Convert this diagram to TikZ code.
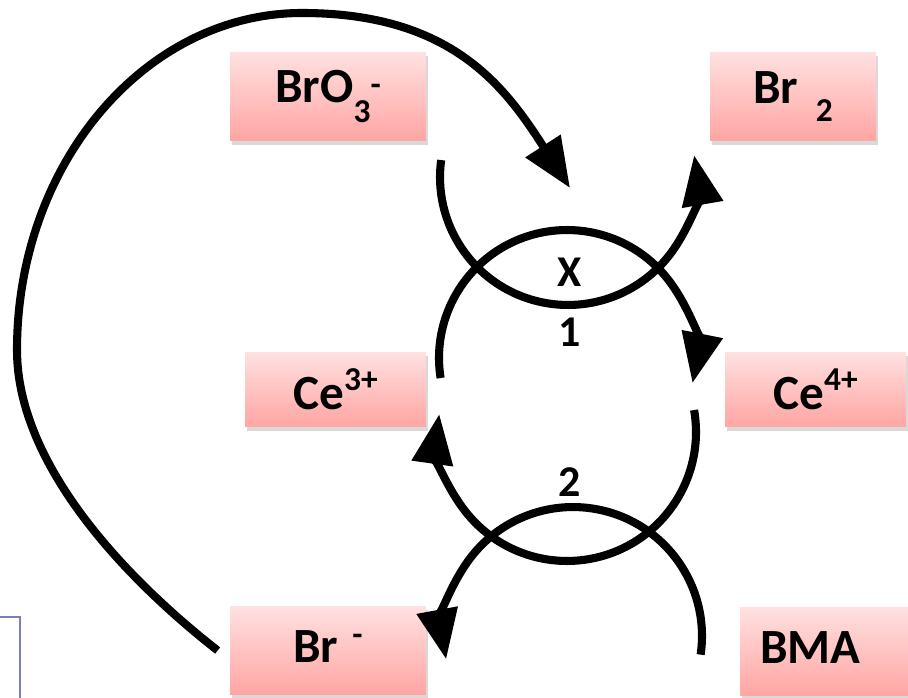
\documentclass[tikz,border=0pt]{standalone}
\usepackage{fontspec}
\setmainfont{Carlito}
\usetikzlibrary{arrows.meta,shadows,calc}
\definecolor{boxtop}{RGB}{255,225,225}
\definecolor{boxbot}{RGB}{255,165,162}
\definecolor{frameblue}{RGB}{125,125,185}
\newcommand{\shiftsc}[2]{\raisebox{#1}{\fontsize{19pt}{19pt}\selectfont #2}}
\begin{document}
\begin{tikzpicture}[x=0.02cm,y=0.02cm,
  chem/.style={rectangle, top color=boxtop, bottom color=boxbot, draw=none, inner sep=0pt,
    font=\fontsize{28pt}{30pt}\selectfont\bfseries,
    drop shadow={shadow xshift=1pt,shadow yshift=-2pt,opacity=0.3}},
  react/.style={line width=4.6pt, black},
  tipend/.style={-{Triangle[length=1cm,width=0.8cm]}},
  lbl/.style={font=\fontsize{25pt}{27pt}\selectfont\bfseries, inner sep=0pt}
]
\useasboundingbox (0,0) rectangle (908,697);
\clip (0,0) rectangle (908,697);

% partial frame at left edge
\draw[frameblue, line width=1.1pt, fill=white] (-20,80) rectangle (20,-20);

% species boxes
\node[chem, minimum width=3.92cm, minimum height=1.78cm] (bro3) at (328,600.5) {BrO\shiftsc{-11pt}{3}\shiftsc{4pt}{-}};
\node[chem, minimum width=3.32cm, minimum height=1.78cm] (br2) at (793,600.5) {Br\hspace{10pt}\shiftsc{-10pt}{2}};
\node[chem, minimum width=3.62cm, minimum height=1.5cm] (ce3) at (335.5,307.5) {Ce\shiftsc{11pt}{3+}};
\node[chem, minimum width=3.62cm, minimum height=1.5cm] (ce4) at (815.5,307.5) {Ce\shiftsc{11pt}{4+}};
\node[chem, minimum width=3.92cm, minimum height=1.78cm, text depth=5pt] (brm) at (328,46.5) {Br\hspace{8pt}\shiftsc{9.5pt}{-}};
\node[chem, anchor=west, text width=2.8cm, inner xsep=0.4cm, align=left, minimum height=1.78cm, text depth=5pt] (bma) at (740,45.5) {BMA};

% arc centres
\coordinate (cA) at (568,520);
\coordinate (cB) at (567,339);
\coordinate (cC) at (567,265);
\coordinate (cD) at (573,61);

% reaction X: BrO3- -> Br2
\draw[react,tipend] (cA) ++(172.4:2.56cm) arc[start angle=172.4, end angle=369.8, radius=2.56cm];
% reaction 1: Ce3+ -> Ce4+
\draw[react,tipend] (cB) ++(189:2.56cm) arc[start angle=189, end angle=-11.3, radius=2.56cm];
% reaction 2: Ce4+ -> Ce3+
\draw[react,tipend] (cC) ++(9.8:2.58cm) arc[start angle=9.8, end angle=-188, radius=2.58cm];
% reaction 2: BMA -> Br-
\draw[react,tipend] (cD) ++(-8.3:2.58cm) arc[start angle=-8.3, end angle=190.4, radius=2.58cm];

% feedback Br- -> X
\coordinate (e0) at ($(brm.west)+(-12,0)$);
\coordinate (xin) at (570,509);
\draw[react,tipend] (e0) .. controls (130,115) and (17,230) .. (17,347)
  .. controls (17,533) and (145,684) .. (302,684)
  .. controls (452,684) and (505,610) .. (xin);

% labels
\node[lbl] (lx) at (570,425) {X};
\node[lbl] (l1) at (570,365) {1};
\node[lbl] (l2) at (570,215) {2};
\end{tikzpicture}
\end{document}
